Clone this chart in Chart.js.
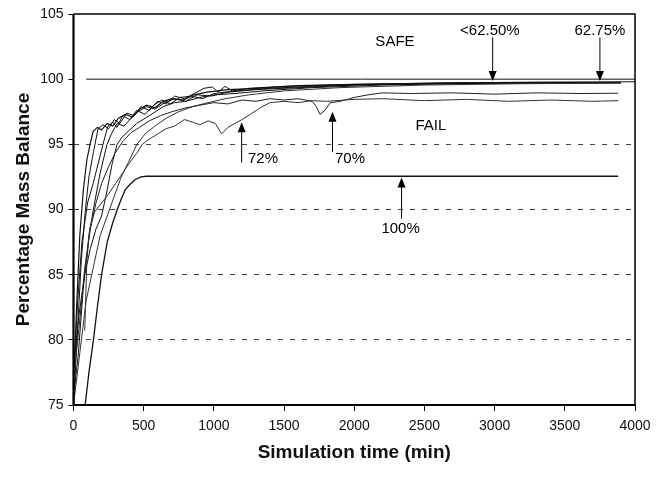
<!DOCTYPE html>
<html><head><meta charset="utf-8">
<script src="https://cdn.jsdelivr.net/npm/chart.js@4.4.0/dist/chart.umd.min.js"></script>
<style>html,body{margin:0;padding:0;background:#fff}</style>
</head><body>
<canvas id="c" width="664" height="479"></canvas>
<script>
// ---- data (x: minutes, y: percentage mass balance) ----
const xTicks = [0,500,1000,1500,2000,2500,3000,3500,4000];
const yTicks = [75,80,85,90,95,100,105];
const safeLine = [[90,100],[4000,100]];
const curveA = [[0,76],[20,82],[45,88],[70,91.5],[95,93.8],[118,95],[140,96.0],[170,96.3],[200,96.1],[240,96.6],[280,96.4],[320,97.0],[370,97.3],[420,97.1],[470,97.7],[520,98.0],[580,97.8],[640,98.3],[700,98.5],[780,98.4],[860,98.8],[950,99.0],[1100,99.2],[1300,99.3],[1600,99.5],[2000,99.6],[2600,99.7],[3200,99.75],[4000,99.8]];
const curveB = [[0,75],[25,80],[55,86],[85,90],[110,92.5],[135,94],[153,95],[175,96.2],[210,96.5],[250,96.2],[290,96.9],[330,96.6],[380,97.4],[430,97.2],[480,97.9],[540,97.6],[600,98.3],[660,98.1],[720,98.7],[790,98.5],[860,98.9],[930,99.3],[990,99.4],[1030,99.0],[1080,99.45],[1130,99.1],[1250,99.3],[1500,99.45],[2000,99.6],[2600,99.7],[3300,99.75],[3900,99.75]];
const curveC = [[0,77],[30,83],[60,87.5],[100,90.5],[140,92],[175,93.5],[210,95],[245,96.4],[280,96.7],[310,96.3],[350,97.2],[400,96.9],[450,97.6],[510,97.3],[570,98.0],[630,98.4],[690,98.1],[760,98.6],[840,98.7],[920,98.5],[1000,98.9],[1150,99.1],[1400,99.3],[1800,99.5],[2400,99.65],[3100,99.7],[3900,99.72]];
const curveD = [[0,75.5],[35,79],[70,84],[110,88],[150,90.5],[190,92.8],[239,95],[270,95.8],[310,96.6],[360,96.4],[410,97.0],[460,97.5],[520,97.9],[580,97.7],[650,98.2],[720,98.5],[800,98.3],[880,98.8],[980,98.7],[1100,99.0],[1300,99.2],[1600,99.35],[2000,99.55],[2600,99.68],[3300,99.73],[3900,99.75]];
const curveE = [[0,78],[40,82],[80,85],[120,87],[160,88.5],[200,89.5],[240,91.5],[275,93.5],[310,95],[350,95.6],[400,96.1],[450,96.6],[510,97.0],[570,97.4],[640,97.9],[720,98.2],[800,98.3],[900,98.6],[1000,98.8],[1150,98.9],[1350,99.1],[1700,99.35],[2200,99.55],[2900,99.68],[3900,99.72]];
const curveF = [[0,75],[45,79],[90,83],[140,85.5],[190,88],[240,89.5],[290,91],[340,92.5],[390,93.6],[452,95],[510,95.8],[580,96.4],[660,97.0],[750,97.5],[850,97.9],[960,98.2],[1080,98.5],[1250,98.8],[1500,99.1],[1900,99.35],[2500,99.55],[3200,99.65],[3900,99.7]];
const curve72 = [[80,80.7],[95,86],[115,88.5],[150,89.8],[200,90.5],[250,91.2],[300,92.0],[350,92.8],[400,93.6],[450,94.3],[490,95.0],[540,95.4],[600,95.8],[660,96.2],[720,96.4],[790,96.9],[850,96.7],[900,96.5],[960,96.8],[1010,96.6],[1055,95.8],[1100,96.3],[1150,96.6],[1200,96.9],[1260,97.3],[1330,97.8],[1400,98.2],[1500,98.3],[1600,98.2],[1700,98.35],[1800,98.3],[2000,98.45],[2200,98.5],[2500,98.35],[2800,98.45],[3100,98.3],[3400,98.4],[3700,98.3],[3880,98.35]];
const curve70 = [[0,77],[40,81],[80,85.5],[120,88.5],[160,90.5],[200,92],[250,93.3],[300,94.4],[350,95.2],[410,95.9],[470,96.3],[540,96.8],[620,97.2],[700,97.5],[800,97.8],[900,98.0],[1000,98.2],[1100,98.1],[1200,98.4],[1300,98.3],[1400,98.5],[1500,98.4],[1600,98.5],[1700,98.3],[1730,97.9],[1756,97.3],[1790,97.6],[1830,98.2],[1900,98.3],[2000,98.6],[2100,98.8],[2200,98.95],[2400,98.9],[2700,98.95],[3000,98.85],[3300,98.95],[3600,98.9],[3880,98.92]];
const curve100 = [[83,75],[110,77.5],[142,80],[170,82.5],[200,85],[240,87.5],[280,89],[312,90],[340,90.8],[368,91.5],[400,91.9],[440,92.3],[480,92.5],[520,92.55],[3880,92.55]];

// annotations
const annoTexts = ['SAFE','<62.50%','62.75%','FAIL','72%','70%','100%'];
const annoX = [2290,2966,3750,2546,1350,1970,2330];
const annoY = [102.9,103.7,103.7,96.4,93.9,93.85,88.5];
const arrowX = [2986,3750,1198,1845,2337];
const arrowTailY = [103.2,103.2,93.6,94.4,89.3];
const arrowHeadY = [99.85,99.85,96.7,97.5,92.45];

const toPts = a => a.map(p => ({x:p[0], y:p[1]}));
const ds = (arr, w, c) => ({data: toPts(arr), borderColor: c || '#111', borderWidth: w || 1, pointRadius: 0, showLine: true, fill: false, tension: 0});

const frame = {
  id: 'frame',
  afterDatasetsDraw(chart) {
    const {ctx, chartArea: a, scales: {x, y}} = chart;
    ctx.save();
    ctx.strokeStyle = '#000';
    ctx.lineWidth = 1.5;
    ctx.beginPath(); ctx.moveTo(a.left, a.top); ctx.lineTo(a.right, a.top); ctx.lineTo(a.right, a.bottom); ctx.stroke();
    ctx.lineWidth = 2.2;
    ctx.beginPath(); ctx.moveTo(a.left, a.top); ctx.lineTo(a.left, a.bottom); ctx.lineTo(a.right, a.bottom); ctx.stroke();
    // arrows
    ctx.lineWidth = 1;
    ctx.fillStyle = '#000';
    for (let i = 0; i < arrowX.length; i++) {
      const px = x.getPixelForValue(arrowX[i]);
      const ty = y.getPixelForValue(arrowTailY[i]);
      const hy = y.getPixelForValue(arrowHeadY[i]);
      const dir = hy > ty ? 1 : -1;
      ctx.beginPath(); ctx.moveTo(px, ty); ctx.lineTo(px, hy - dir*8); ctx.stroke();
      ctx.beginPath(); ctx.moveTo(px, hy); ctx.lineTo(px - 4, hy - dir*10); ctx.lineTo(px + 4, hy - dir*10); ctx.closePath(); ctx.fill();
    }
    ctx.font = '15px "Liberation Sans", Arial, sans-serif';
    ctx.textAlign = 'center'; ctx.textBaseline = 'middle';
    for (let i = 0; i < annoTexts.length; i++) {
      ctx.fillText(annoTexts[i], x.getPixelForValue(annoX[i]), y.getPixelForValue(annoY[i]));
    }
    ctx.restore();
  }
};

new Chart(document.getElementById('c'), {
  type: 'scatter',
  data: { datasets: [
    ds(safeLine, 1),
    ds(curve100, 1.3),
    ds(curve72, 1, '#333'),
    ds(curve70, 1, '#222'),
    ds(curveF, 1, '#333'),
    ds(curveE, 1),
    ds(curveD, 1),
    ds(curveC, 1),
    ds(curveB, 1),
    ds(curveA, 1.2)
  ]},
  options: {
    responsive: false,
    animation: false,
    events: [],
    layout: { padding: { top: 14, right: 29, left: 0, bottom: 0 } },
    plugins: { legend: { display: false }, tooltip: { enabled: false } },
    scales: {
      x: {
        type: 'linear', min: 0, max: 4000,
        afterBuildTicks: s => { s.ticks = xTicks.map(v => ({value: v})); },
        afterFit: s => { s.height = 74; },
        border: { display: false },
        grid: { drawOnChartArea: false, drawTicks: true, tickLength: 6, color: '#000' },
        ticks: { color: '#111', padding: 7, maxRotation: 0, callback: v => String(v), font: { family: '"Liberation Sans", Arial, sans-serif', size: 14 } },
        title: { display: true, text: 'Simulation time (min)', color: '#111', padding: { top: 0, bottom: 15 }, font: { family: '"Liberation Sans", Arial, sans-serif', size: 19, weight: 'bold' } }
      },
      y: {
        type: 'linear', min: 75, max: 105,
        afterBuildTicks: s => { s.ticks = yTicks.map(v => ({value: v})); },
        afterFit: s => { s.width = 73.5; },
        border: { display: false, dash: [5, 7] },
        grid: { drawTicks: true, tickLength: 5, tickColor: '#000', color: c => (c.tick && (c.tick.value === 75 || c.tick.value === 105 || c.tick.value === 100)) ? 'rgba(0,0,0,0)' : '#444', lineWidth: 1 },
        ticks: { color: '#111', padding: 5, callback: v => String(v), font: { family: '"Liberation Sans", Arial, sans-serif', size: 14 } },
        title: { display: true, text: 'Percentage Mass Balance', color: '#111', padding: { top: 12, bottom: 0 }, font: { family: '"Liberation Sans", Arial, sans-serif', size: 19, weight: 'bold' } }
      }
    }
  },
  plugins: [frame]
});
</script>
</body></html>
